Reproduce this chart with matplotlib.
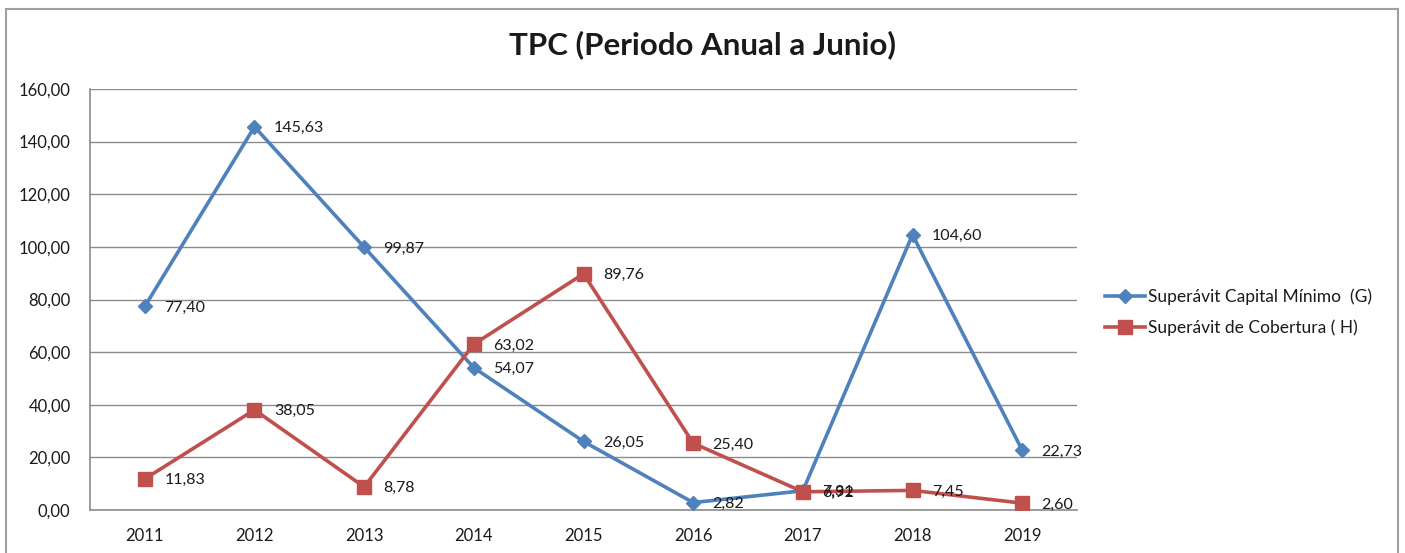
import matplotlib
matplotlib.use('Agg')
import matplotlib.pyplot as plt
from matplotlib.lines import Line2D

# ------------------------------------------------------------------
years = ['2011', '2012', '2013', '2014', '2015', '2016', '2017', '2018', '2019']
capital_minimo = [77.40, 145.63, 99.87, 54.07, 26.05, 2.82, 7.31, 104.60, 22.73]
cobertura = [11.83, 38.05, 8.78, 63.02, 89.76, 25.40, 6.92, 7.45, 2.60]
y_ticks = [0, 20, 40, 60, 80, 100, 120, 140, 160]

label_g = 'Superávit Capital Mínimo  (G)'
label_h = 'Superávit de Cobertura ( H)'
title = 'TPC (Periodo Anual a Junio)'

blue = '#4F81BD'
red = '#C0504D'
txt = '#1a1a1a'
grid_c = '#8c8c8c'

plt.rcParams['font.family'] = ['Lato', 'DejaVu Sans']


def fmt(v):
    return ('%.2f' % v).replace('.', ',')


# ------------------------------------------------------------------
fig = plt.figure(figsize=(14.05, 5.53), dpi=100)
ax = fig.add_axes([90 / 1405, 43 / 553, 987 / 1405, 421 / 553])

x = list(range(len(years)))
ax.plot(x, capital_minimo, color=blue, lw=2.6, marker='D', ms=7,
        label=label_g, zorder=3)
ax.plot(x, cobertura, color=red, lw=2.6, marker='s', ms=9.5,
        label=label_h, zorder=3)

for xi, v in zip(x, capital_minimo):
    ax.annotate(fmt(v), (xi, v), xytext=(14, -1), textcoords='offset points',
                ha='left', va='center', fontsize=11.5, color=txt, zorder=4)
for xi, v in zip(x, cobertura):
    ax.annotate(fmt(v), (xi, v), xytext=(14, -1), textcoords='offset points',
                ha='left', va='center', fontsize=11.5, color=txt, zorder=4)

ax.set_xlim(-0.5, len(years) - 0.5)
ax.set_ylim(0, 160)
ax.set_xticks(x)
ax.set_xticklabels(years)
ax.set_yticks(y_ticks)
ax.set_yticklabels([fmt(v) for v in y_ticks])
ax.tick_params(axis='both', length=0, labelsize=12, colors=txt)
ax.tick_params(axis='x', pad=13)
ax.tick_params(axis='y', pad=14)

ax.grid(axis='y', color=grid_c, lw=1)
ax.set_axisbelow(True)
for s in ['top', 'right']:
    ax.spines[s].set_visible(False)
for s in ['left', 'bottom']:
    ax.spines[s].set_color(grid_c)
    ax.spines[s].set_linewidth(1.2)

fig.text(0.5, 1 - 45 / 553, title, ha='center', va='center',
         fontsize=22.5, fontweight='bold', color=txt)

ax.legend(loc='center left', bbox_to_anchor=(1105 / 1405, 1 - 312 / 553),
          bbox_transform=fig.transFigure, frameon=False, fontsize=12.5,
          handlelength=2.3, handletextpad=0.15, labelspacing=0.85,
          borderaxespad=0, borderpad=0, labelcolor=txt)

# outer chart border
bc = '#a0a0a0'
x0, x1, yt = 6 / 1405, 1398 / 1405, 1 - 9 / 553
fig.add_artist(Line2D([x0, x1], [yt, yt], color=bc, lw=1.5, transform=fig.transFigure))
fig.add_artist(Line2D([x0, x0], [0, yt], color=bc, lw=1.5, transform=fig.transFigure))
fig.add_artist(Line2D([x1, x1], [0, yt], color=bc, lw=1.5, transform=fig.transFigure))

fig.savefig('out.png', dpi=100, facecolor='white')
